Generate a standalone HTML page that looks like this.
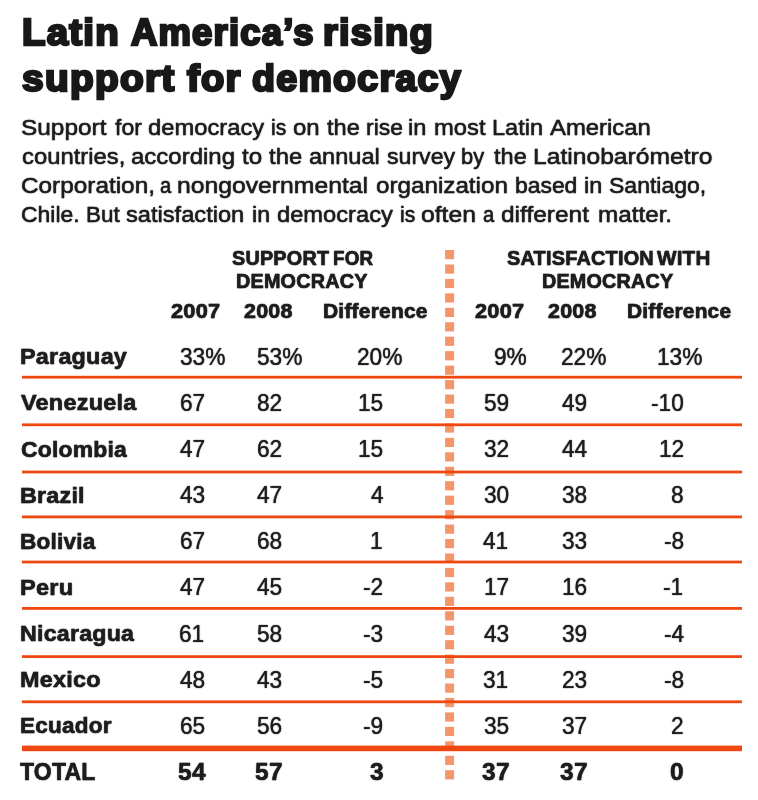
<!DOCTYPE html>
<html><head><meta charset="utf-8"><title>Latin America's rising support for democracy</title>
<style>
html,body{margin:0;padding:0;background:#fff;}
body{width:758px;height:800px;position:relative;overflow:hidden;font-family:"Liberation Sans",sans-serif;}
#w{position:absolute;left:0;top:0;width:758px;height:800px;background:#fff;will-change:transform;}
#g{position:absolute;left:0;top:0;}
.t{position:absolute;white-space:nowrap;transform-origin:0 0;display:block;}
.b{font-weight:bold;}
</style></head><body><div id="w">
<svg id="g" width="758" height="800" viewBox="0 0 758 800">

<rect x="445.1" y="250.00" width="9" height="9.2" fill="#f5966a"/>
<rect x="445.1" y="264.45" width="9" height="9.2" fill="#f5966a"/>
<rect x="445.1" y="278.90" width="9" height="9.2" fill="#f5966a"/>
<rect x="445.1" y="293.35" width="9" height="9.2" fill="#f5966a"/>
<rect x="445.1" y="307.80" width="9" height="9.2" fill="#f5966a"/>
<rect x="445.1" y="322.25" width="9" height="9.2" fill="#f5966a"/>
<rect x="445.1" y="336.70" width="9" height="9.2" fill="#f5966a"/>
<rect x="445.1" y="351.15" width="9" height="9.2" fill="#f5966a"/>
<rect x="445.1" y="365.60" width="9" height="9.2" fill="#f5966a"/>
<rect x="445.1" y="380.05" width="9" height="9.2" fill="#f5966a"/>
<rect x="445.1" y="394.50" width="9" height="9.2" fill="#f5966a"/>
<rect x="445.1" y="408.95" width="9" height="9.2" fill="#f5966a"/>
<rect x="445.1" y="423.40" width="9" height="9.2" fill="#f5966a"/>
<rect x="445.1" y="437.85" width="9" height="9.2" fill="#f5966a"/>
<rect x="445.1" y="452.30" width="9" height="9.2" fill="#f5966a"/>
<rect x="445.1" y="466.75" width="9" height="9.2" fill="#f5966a"/>
<rect x="445.1" y="481.20" width="9" height="9.2" fill="#f5966a"/>
<rect x="445.1" y="495.65" width="9" height="9.2" fill="#f5966a"/>
<rect x="445.1" y="510.10" width="9" height="9.2" fill="#f5966a"/>
<rect x="445.1" y="524.55" width="9" height="9.2" fill="#f5966a"/>
<rect x="445.1" y="539.00" width="9" height="9.2" fill="#f5966a"/>
<rect x="445.1" y="553.45" width="9" height="9.2" fill="#f5966a"/>
<rect x="445.1" y="567.90" width="9" height="9.2" fill="#f5966a"/>
<rect x="445.1" y="582.35" width="9" height="9.2" fill="#f5966a"/>
<rect x="445.1" y="596.80" width="9" height="9.2" fill="#f5966a"/>
<rect x="445.1" y="611.25" width="9" height="9.2" fill="#f5966a"/>
<rect x="445.1" y="625.70" width="9" height="9.2" fill="#f5966a"/>
<rect x="445.1" y="640.15" width="9" height="9.2" fill="#f5966a"/>
<rect x="445.1" y="654.60" width="9" height="9.2" fill="#f5966a"/>
<rect x="445.1" y="669.05" width="9" height="9.2" fill="#f5966a"/>
<rect x="445.1" y="683.50" width="9" height="9.2" fill="#f5966a"/>
<rect x="445.1" y="697.95" width="9" height="9.2" fill="#f5966a"/>
<rect x="445.1" y="712.40" width="9" height="9.2" fill="#f5966a"/>
<rect x="445.1" y="726.85" width="9" height="9.2" fill="#f5966a"/>
<rect x="445.1" y="741.30" width="9" height="9.2" fill="#f5966a"/>
<rect x="445.1" y="755.75" width="9" height="9.2" fill="#f5966a"/>
<rect x="445.1" y="770.20" width="9" height="9.2" fill="#f5966a"/>
<rect x="22" y="375.80" width="720" height="2.8" fill="#ee470f"/>
<rect x="22" y="423.40" width="720" height="2.8" fill="#ee470f"/>
<rect x="22" y="470.60" width="720" height="2.8" fill="#ee470f"/>
<rect x="22" y="515.50" width="720" height="2.8" fill="#ee470f"/>
<rect x="22" y="560.60" width="720" height="2.8" fill="#ee470f"/>
<rect x="22" y="607.00" width="720" height="2.8" fill="#ee470f"/>
<rect x="22" y="655.20" width="720" height="2.8" fill="#ee470f"/>
<rect x="22" y="700.40" width="720" height="2.8" fill="#ee470f"/>
<rect x="22" y="745.6" width="720" height="5.6" fill="#ee470f"/>
</svg>
<div class="t b" style="left:22.35px;top:12px;font-size:36px;line-height:41px;color:#181818;-webkit-text-stroke:2.4px #181818;letter-spacing:1.2px;text-shadow:0 0 1.5px #181818;transform:scaleX(1.0650)">Latin</div>
<div class="t b" style="left:131.01px;top:12px;font-size:36px;line-height:41px;color:#181818;-webkit-text-stroke:2.4px #181818;letter-spacing:1.2px;text-shadow:0 0 1.5px #181818;transform:scaleX(1.0113)">America’s</div>
<div class="t b" style="left:323.06px;top:12px;font-size:36px;line-height:41px;color:#181818;-webkit-text-stroke:2.4px #181818;letter-spacing:1.2px;text-shadow:0 0 1.5px #181818;transform:scaleX(1.0554)">rising</div>
<div class="t b" style="left:22.42px;top:58px;font-size:36px;line-height:41px;color:#181818;-webkit-text-stroke:2.4px #181818;letter-spacing:1.2px;text-shadow:0 0 1.5px #181818;transform:scaleX(1.0786)">support</div>
<div class="t b" style="left:186.67px;top:58px;font-size:36px;line-height:41px;color:#181818;-webkit-text-stroke:2.4px #181818;letter-spacing:1.2px;text-shadow:0 0 1.5px #181818;transform:scaleX(1.0572)">for</div>
<div class="t b" style="left:251.71px;top:58px;font-size:36px;line-height:41px;color:#181818;-webkit-text-stroke:2.4px #181818;letter-spacing:1.2px;text-shadow:0 0 1.5px #181818;transform:scaleX(1.0443)">democracy</div>
<div class="t" style="left:20.79px;top:114px;font-size:22.9px;line-height:26px;color:#1d1d1d;-webkit-text-stroke:0.38px #1d1d1d;text-shadow:0 0 1.2px #1d1d1d;transform:scaleX(1.0655)">Support</div>
<div class="t" style="left:114.59px;top:114px;font-size:22.9px;line-height:26px;color:#1d1d1d;-webkit-text-stroke:0.38px #1d1d1d;text-shadow:0 0 1.2px #1d1d1d;transform:scaleX(1.0084)">for</div>
<div class="t" style="left:148.20px;top:114px;font-size:22.9px;line-height:26px;color:#1d1d1d;-webkit-text-stroke:0.38px #1d1d1d;text-shadow:0 0 1.2px #1d1d1d;transform:scaleX(1.0373)">democracy</div>
<div class="t" style="left:270.95px;top:114px;font-size:22.9px;line-height:26px;color:#1d1d1d;-webkit-text-stroke:0.38px #1d1d1d;text-shadow:0 0 1.2px #1d1d1d;transform:scaleX(0.9246)">is</div>
<div class="t" style="left:292.50px;top:114px;font-size:22.9px;line-height:26px;color:#1d1d1d;-webkit-text-stroke:0.38px #1d1d1d;text-shadow:0 0 1.2px #1d1d1d;transform:scaleX(1.0474)">on</div>
<div class="t" style="left:327.00px;top:114px;font-size:22.9px;line-height:26px;color:#1d1d1d;-webkit-text-stroke:0.38px #1d1d1d;text-shadow:0 0 1.2px #1d1d1d;transform:scaleX(1.0295)">the</div>
<div class="t" style="left:365.59px;top:114px;font-size:22.9px;line-height:26px;color:#1d1d1d;-webkit-text-stroke:0.38px #1d1d1d;text-shadow:0 0 1.2px #1d1d1d;transform:scaleX(1.0019)">rise</div>
<div class="t" style="left:408.26px;top:114px;font-size:22.9px;line-height:26px;color:#1d1d1d;-webkit-text-stroke:0.38px #1d1d1d;text-shadow:0 0 1.2px #1d1d1d;transform:scaleX(1.0325)">in</div>
<div class="t" style="left:433.56px;top:114px;font-size:22.9px;line-height:26px;color:#1d1d1d;-webkit-text-stroke:0.38px #1d1d1d;text-shadow:0 0 1.2px #1d1d1d;transform:scaleX(1.0378)">most</div>
<div class="t" style="left:492.47px;top:114px;font-size:22.9px;line-height:26px;color:#1d1d1d;-webkit-text-stroke:0.38px #1d1d1d;text-shadow:0 0 1.2px #1d1d1d;transform:scaleX(1.0272)">Latin</div>
<div class="t" style="left:550.20px;top:114px;font-size:22.9px;line-height:26px;color:#1d1d1d;-webkit-text-stroke:0.38px #1d1d1d;text-shadow:0 0 1.2px #1d1d1d;transform:scaleX(1.0433)">American</div>
<div class="t" style="left:21.85px;top:143px;font-size:22.9px;line-height:26px;color:#1d1d1d;-webkit-text-stroke:0.38px #1d1d1d;text-shadow:0 0 1.2px #1d1d1d;transform:scaleX(1.0406)">countries,</div>
<div class="t" style="left:130.70px;top:143px;font-size:22.9px;line-height:26px;color:#1d1d1d;-webkit-text-stroke:0.38px #1d1d1d;text-shadow:0 0 1.2px #1d1d1d;transform:scaleX(1.0485)">according</div>
<div class="t" style="left:241.50px;top:143px;font-size:22.9px;line-height:26px;color:#1d1d1d;-webkit-text-stroke:0.38px #1d1d1d;text-shadow:0 0 1.2px #1d1d1d;transform:scaleX(1.0566)">to</div>
<div class="t" style="left:269.20px;top:143px;font-size:22.9px;line-height:26px;color:#1d1d1d;-webkit-text-stroke:0.38px #1d1d1d;text-shadow:0 0 1.2px #1d1d1d;transform:scaleX(1.0422)">the</div>
<div class="t" style="left:308.80px;top:143px;font-size:22.9px;line-height:26px;color:#1d1d1d;-webkit-text-stroke:0.38px #1d1d1d;text-shadow:0 0 1.2px #1d1d1d;transform:scaleX(1.0289)">annual</div>
<div class="t" style="left:386.69px;top:143px;font-size:22.9px;line-height:26px;color:#1d1d1d;-webkit-text-stroke:0.38px #1d1d1d;text-shadow:0 0 1.2px #1d1d1d;transform:scaleX(1.0094)">survey</div>
<div class="t" style="left:461.33px;top:143px;font-size:22.9px;line-height:26px;color:#1d1d1d;-webkit-text-stroke:0.38px #1d1d1d;text-shadow:0 0 1.2px #1d1d1d;transform:scaleX(0.9539)">by</div>
<div class="t" style="left:494.00px;top:143px;font-size:22.9px;line-height:26px;color:#1d1d1d;-webkit-text-stroke:0.38px #1d1d1d;text-shadow:0 0 1.2px #1d1d1d;transform:scaleX(1.0295)">the</div>
<div class="t" style="left:533.33px;top:143px;font-size:22.9px;line-height:26px;color:#1d1d1d;-webkit-text-stroke:0.38px #1d1d1d;text-shadow:0 0 1.2px #1d1d1d;transform:scaleX(1.0765)">Latinobarómetro</div>
<div class="t" style="left:20.79px;top:172px;font-size:22.9px;line-height:26px;color:#1d1d1d;-webkit-text-stroke:0.38px #1d1d1d;text-shadow:0 0 1.2px #1d1d1d;transform:scaleX(1.0634)">Corporation,</div>
<div class="t" style="left:159.78px;top:172px;font-size:22.9px;line-height:26px;color:#1d1d1d;-webkit-text-stroke:0.38px #1d1d1d;text-shadow:0 0 1.2px #1d1d1d;transform:scaleX(0.8800)">a</div>
<div class="t" style="left:177.13px;top:172px;font-size:22.9px;line-height:26px;color:#1d1d1d;-webkit-text-stroke:0.38px #1d1d1d;text-shadow:0 0 1.2px #1d1d1d;transform:scaleX(1.0800)">nongovernmental</div>
<div class="t" style="left:375.60px;top:172px;font-size:22.9px;line-height:26px;color:#1d1d1d;-webkit-text-stroke:0.38px #1d1d1d;text-shadow:0 0 1.2px #1d1d1d;transform:scaleX(1.0574)">organization</div>
<div class="t" style="left:515.09px;top:172px;font-size:22.9px;line-height:26px;color:#1d1d1d;-webkit-text-stroke:0.38px #1d1d1d;text-shadow:0 0 1.2px #1d1d1d;transform:scaleX(0.9997)">based</div>
<div class="t" style="left:583.97px;top:172px;font-size:22.9px;line-height:26px;color:#1d1d1d;-webkit-text-stroke:0.38px #1d1d1d;text-shadow:0 0 1.2px #1d1d1d;transform:scaleX(1.0264)">in</div>
<div class="t" style="left:608.79px;top:172px;font-size:22.9px;line-height:26px;color:#1d1d1d;-webkit-text-stroke:0.38px #1d1d1d;text-shadow:0 0 1.2px #1d1d1d;transform:scaleX(1.0048)">Santiago,</div>
<div class="t" style="left:20.84px;top:201px;font-size:22.9px;line-height:26px;color:#1d1d1d;-webkit-text-stroke:0.38px #1d1d1d;text-shadow:0 0 1.2px #1d1d1d;transform:scaleX(1.0019)">Chile.</div>
<div class="t" style="left:85.81px;top:201px;font-size:22.9px;line-height:26px;color:#1d1d1d;-webkit-text-stroke:0.38px #1d1d1d;text-shadow:0 0 1.2px #1d1d1d;transform:scaleX(0.9803)">But</div>
<div class="t" style="left:126.00px;top:201px;font-size:22.9px;line-height:26px;color:#1d1d1d;-webkit-text-stroke:0.38px #1d1d1d;text-shadow:0 0 1.2px #1d1d1d;transform:scaleX(1.0328)">satisfaction</div>
<div class="t" style="left:251.58px;top:201px;font-size:22.9px;line-height:26px;color:#1d1d1d;-webkit-text-stroke:0.38px #1d1d1d;text-shadow:0 0 1.2px #1d1d1d;transform:scaleX(1.0082)">in</div>
<div class="t" style="left:276.70px;top:201px;font-size:22.9px;line-height:26px;color:#1d1d1d;-webkit-text-stroke:0.38px #1d1d1d;text-shadow:0 0 1.2px #1d1d1d;transform:scaleX(1.0347)">democracy</div>
<div class="t" style="left:399.65px;top:201px;font-size:22.9px;line-height:26px;color:#1d1d1d;-webkit-text-stroke:0.38px #1d1d1d;text-shadow:0 0 1.2px #1d1d1d;transform:scaleX(0.9246)">is</div>
<div class="t" style="left:421.21px;top:201px;font-size:22.9px;line-height:26px;color:#1d1d1d;-webkit-text-stroke:0.38px #1d1d1d;text-shadow:0 0 1.2px #1d1d1d;transform:scaleX(1.0799)">often</div>
<div class="t" style="left:482.93px;top:201px;font-size:22.9px;line-height:26px;color:#1d1d1d;-webkit-text-stroke:0.38px #1d1d1d;text-shadow:0 0 1.2px #1d1d1d;transform:scaleX(0.8800)">a</div>
<div class="t" style="left:501.10px;top:201px;font-size:22.9px;line-height:26px;color:#1d1d1d;-webkit-text-stroke:0.38px #1d1d1d;text-shadow:0 0 1.2px #1d1d1d;transform:scaleX(1.0694)">different</div>
<div class="t" style="left:597.74px;top:201px;font-size:22.9px;line-height:26px;color:#1d1d1d;-webkit-text-stroke:0.38px #1d1d1d;text-shadow:0 0 1.2px #1d1d1d;transform:scaleX(1.0590)">matter.</div>
<div class="t b" style="left:232.05px;top:247px;font-size:19.5px;line-height:22px;color:#1d1d1d;-webkit-text-stroke:0.5px #1d1d1d;letter-spacing:0.2px;text-shadow:0 0 1.2px #1d1d1d;transform:scaleX(1.0161)">SUPPORT</div>
<div class="t b" style="left:333.28px;top:247px;font-size:19.5px;line-height:22px;color:#1d1d1d;-webkit-text-stroke:0.5px #1d1d1d;letter-spacing:0.2px;text-shadow:0 0 1.2px #1d1d1d;transform:scaleX(0.9639)">FOR</div>
<div class="t b" style="left:507.46px;top:247px;font-size:19.5px;line-height:22px;color:#1d1d1d;-webkit-text-stroke:0.5px #1d1d1d;letter-spacing:0.2px;text-shadow:0 0 1.2px #1d1d1d;transform:scaleX(1.0204)">SATISFACTION</div>
<div class="t b" style="left:657.06px;top:247px;font-size:19.5px;line-height:22px;color:#1d1d1d;-webkit-text-stroke:0.5px #1d1d1d;letter-spacing:0.2px;text-shadow:0 0 1.2px #1d1d1d;transform:scaleX(1.0575)">WITH</div>
<div class="t b" style="left:236.14px;top:270px;font-size:19.5px;line-height:22px;color:#1d1d1d;-webkit-text-stroke:0.5px #1d1d1d;letter-spacing:0.2px;text-shadow:0 0 1.2px #1d1d1d;transform:scaleX(1.0153)">DEMOCRACY</div>
<div class="t b" style="left:542.24px;top:270px;font-size:19.5px;line-height:22px;color:#1d1d1d;-webkit-text-stroke:0.5px #1d1d1d;letter-spacing:0.2px;text-shadow:0 0 1.2px #1d1d1d;transform:scaleX(1.0137)">DEMOCRACY</div>
<div class="t b" style="left:170.88px;top:300px;font-size:19.5px;line-height:22px;color:#1d1d1d;-webkit-text-stroke:0.5px #1d1d1d;letter-spacing:0.2px;text-shadow:0 0 1.2px #1d1d1d;transform:scaleX(1.1161)">2007</div>
<div class="t b" style="left:244.48px;top:300px;font-size:19.5px;line-height:22px;color:#1d1d1d;-webkit-text-stroke:0.5px #1d1d1d;letter-spacing:0.2px;text-shadow:0 0 1.2px #1d1d1d;transform:scaleX(1.1000)">2008</div>
<div class="t b" style="left:323.29px;top:300px;font-size:19.5px;line-height:22px;color:#1d1d1d;-webkit-text-stroke:0.5px #1d1d1d;letter-spacing:0.2px;text-shadow:0 0 1.2px #1d1d1d;transform:scaleX(1.0752)">Difference</div>
<div class="t b" style="left:474.88px;top:300px;font-size:19.5px;line-height:22px;color:#1d1d1d;-webkit-text-stroke:0.5px #1d1d1d;letter-spacing:0.2px;text-shadow:0 0 1.2px #1d1d1d;transform:scaleX(1.1161)">2007</div>
<div class="t b" style="left:548.48px;top:300px;font-size:19.5px;line-height:22px;color:#1d1d1d;-webkit-text-stroke:0.5px #1d1d1d;letter-spacing:0.2px;text-shadow:0 0 1.2px #1d1d1d;transform:scaleX(1.1000)">2008</div>
<div class="t b" style="left:626.60px;top:300px;font-size:19.5px;line-height:22px;color:#1d1d1d;-webkit-text-stroke:0.5px #1d1d1d;letter-spacing:0.2px;text-shadow:0 0 1.2px #1d1d1d;transform:scaleX(1.0710)">Difference</div>
<div class="t b" style="left:19.58px;top:344px;font-size:22px;line-height:25px;color:#1d1d1d;-webkit-text-stroke:0.45px #1d1d1d;letter-spacing:0.2px;text-shadow:0 0 1.2px #1d1d1d;transform:scaleX(1.0639)">Paraguay</div>
<div class="t" style="left:179.99px;top:343px;font-size:24px;line-height:27px;color:#1d1d1d;-webkit-text-stroke:0.2px #1d1d1d;text-shadow:0 0 1.2px #1d1d1d;transform:scaleX(0.9450)">33%</div>
<div class="t" style="left:256.69px;top:343px;font-size:24px;line-height:27px;color:#1d1d1d;-webkit-text-stroke:0.2px #1d1d1d;text-shadow:0 0 1.2px #1d1d1d;transform:scaleX(0.9450)">53%</div>
<div class="t" style="left:356.75px;top:343px;font-size:24px;line-height:27px;color:#1d1d1d;-webkit-text-stroke:0.2px #1d1d1d;text-shadow:0 0 1.2px #1d1d1d;transform:scaleX(0.9450)">20%</div>
<div class="t" style="left:493.75px;top:343px;font-size:24px;line-height:27px;color:#1d1d1d;-webkit-text-stroke:0.2px #1d1d1d;text-shadow:0 0 1.2px #1d1d1d;transform:scaleX(0.9450)">9%</div>
<div class="t" style="left:561.45px;top:343px;font-size:24px;line-height:27px;color:#1d1d1d;-webkit-text-stroke:0.2px #1d1d1d;text-shadow:0 0 1.2px #1d1d1d;transform:scaleX(0.9450)">22%</div>
<div class="t" style="left:656.75px;top:343px;font-size:24px;line-height:27px;color:#1d1d1d;-webkit-text-stroke:0.2px #1d1d1d;text-shadow:0 0 1.2px #1d1d1d;transform:scaleX(0.9450)">13%</div>
<div class="t b" style="left:20.64px;top:390px;font-size:22px;line-height:25px;color:#1d1d1d;-webkit-text-stroke:0.45px #1d1d1d;letter-spacing:0.2px;text-shadow:0 0 1.2px #1d1d1d;transform:scaleX(1.0677)">Venezuela</div>
<div class="t" style="left:179.81px;top:389px;font-size:24px;line-height:27px;color:#1d1d1d;-webkit-text-stroke:0.2px #1d1d1d;text-shadow:0 0 1.2px #1d1d1d;transform:scaleX(0.9450)">67</div>
<div class="t" style="left:256.81px;top:389px;font-size:24px;line-height:27px;color:#1d1d1d;-webkit-text-stroke:0.2px #1d1d1d;text-shadow:0 0 1.2px #1d1d1d;transform:scaleX(0.9450)">82</div>
<div class="t" style="left:357.91px;top:389px;font-size:24px;line-height:27px;color:#1d1d1d;-webkit-text-stroke:0.2px #1d1d1d;text-shadow:0 0 1.2px #1d1d1d;transform:scaleX(0.9450)">15</div>
<div class="t" style="left:483.71px;top:389px;font-size:24px;line-height:27px;color:#1d1d1d;-webkit-text-stroke:0.2px #1d1d1d;text-shadow:0 0 1.2px #1d1d1d;transform:scaleX(0.9450)">59</div>
<div class="t" style="left:562.01px;top:389px;font-size:24px;line-height:27px;color:#1d1d1d;-webkit-text-stroke:0.2px #1d1d1d;text-shadow:0 0 1.2px #1d1d1d;transform:scaleX(0.9450)">49</div>
<div class="t" style="left:651.05px;top:389px;font-size:24px;line-height:27px;color:#1d1d1d;-webkit-text-stroke:0.2px #1d1d1d;text-shadow:0 0 1.2px #1d1d1d;transform:scaleX(0.9450)">-10</div>
<div class="t b" style="left:20.63px;top:437px;font-size:22px;line-height:25px;color:#1d1d1d;-webkit-text-stroke:0.45px #1d1d1d;letter-spacing:0.2px;text-shadow:0 0 1.2px #1d1d1d;transform:scaleX(1.0414)">Colombia</div>
<div class="t" style="left:179.81px;top:435px;font-size:24px;line-height:27px;color:#1d1d1d;-webkit-text-stroke:0.2px #1d1d1d;text-shadow:0 0 1.2px #1d1d1d;transform:scaleX(0.9450)">47</div>
<div class="t" style="left:256.81px;top:435px;font-size:24px;line-height:27px;color:#1d1d1d;-webkit-text-stroke:0.2px #1d1d1d;text-shadow:0 0 1.2px #1d1d1d;transform:scaleX(0.9450)">62</div>
<div class="t" style="left:357.91px;top:435px;font-size:24px;line-height:27px;color:#1d1d1d;-webkit-text-stroke:0.2px #1d1d1d;text-shadow:0 0 1.2px #1d1d1d;transform:scaleX(0.9450)">15</div>
<div class="t" style="left:483.71px;top:435px;font-size:24px;line-height:27px;color:#1d1d1d;-webkit-text-stroke:0.2px #1d1d1d;text-shadow:0 0 1.2px #1d1d1d;transform:scaleX(0.9450)">32</div>
<div class="t" style="left:562.01px;top:435px;font-size:24px;line-height:27px;color:#1d1d1d;-webkit-text-stroke:0.2px #1d1d1d;text-shadow:0 0 1.2px #1d1d1d;transform:scaleX(0.9450)">44</div>
<div class="t" style="left:658.61px;top:435px;font-size:24px;line-height:27px;color:#1d1d1d;-webkit-text-stroke:0.2px #1d1d1d;text-shadow:0 0 1.2px #1d1d1d;transform:scaleX(0.9450)">12</div>
<div class="t b" style="left:19.58px;top:483px;font-size:22px;line-height:25px;color:#1d1d1d;-webkit-text-stroke:0.45px #1d1d1d;letter-spacing:0.2px;text-shadow:0 0 1.2px #1d1d1d;transform:scaleX(1.0600)">Brazil</div>
<div class="t" style="left:179.81px;top:481px;font-size:24px;line-height:27px;color:#1d1d1d;-webkit-text-stroke:0.2px #1d1d1d;text-shadow:0 0 1.2px #1d1d1d;transform:scaleX(0.9450)">43</div>
<div class="t" style="left:256.81px;top:481px;font-size:24px;line-height:27px;color:#1d1d1d;-webkit-text-stroke:0.2px #1d1d1d;text-shadow:0 0 1.2px #1d1d1d;transform:scaleX(0.9450)">47</div>
<div class="t" style="left:370.52px;top:481px;font-size:24px;line-height:27px;color:#1d1d1d;-webkit-text-stroke:0.2px #1d1d1d;text-shadow:0 0 1.2px #1d1d1d;transform:scaleX(0.9450)">4</div>
<div class="t" style="left:483.71px;top:481px;font-size:24px;line-height:27px;color:#1d1d1d;-webkit-text-stroke:0.2px #1d1d1d;text-shadow:0 0 1.2px #1d1d1d;transform:scaleX(0.9450)">30</div>
<div class="t" style="left:562.01px;top:481px;font-size:24px;line-height:27px;color:#1d1d1d;-webkit-text-stroke:0.2px #1d1d1d;text-shadow:0 0 1.2px #1d1d1d;transform:scaleX(0.9450)">38</div>
<div class="t" style="left:671.22px;top:481px;font-size:24px;line-height:27px;color:#1d1d1d;-webkit-text-stroke:0.2px #1d1d1d;text-shadow:0 0 1.2px #1d1d1d;transform:scaleX(0.9450)">8</div>
<div class="t b" style="left:19.60px;top:529px;font-size:22px;line-height:25px;color:#1d1d1d;-webkit-text-stroke:0.45px #1d1d1d;letter-spacing:0.2px;text-shadow:0 0 1.2px #1d1d1d;transform:scaleX(1.0265)">Bolivia</div>
<div class="t" style="left:179.81px;top:527px;font-size:24px;line-height:27px;color:#1d1d1d;-webkit-text-stroke:0.2px #1d1d1d;text-shadow:0 0 1.2px #1d1d1d;transform:scaleX(0.9450)">67</div>
<div class="t" style="left:256.81px;top:527px;font-size:24px;line-height:27px;color:#1d1d1d;-webkit-text-stroke:0.2px #1d1d1d;text-shadow:0 0 1.2px #1d1d1d;transform:scaleX(0.9450)">68</div>
<div class="t" style="left:369.92px;top:527px;font-size:24px;line-height:27px;color:#1d1d1d;-webkit-text-stroke:0.2px #1d1d1d;text-shadow:0 0 1.2px #1d1d1d;transform:scaleX(0.9450)">1</div>
<div class="t" style="left:483.11px;top:527px;font-size:24px;line-height:27px;color:#1d1d1d;-webkit-text-stroke:0.2px #1d1d1d;text-shadow:0 0 1.2px #1d1d1d;transform:scaleX(0.9450)">41</div>
<div class="t" style="left:562.01px;top:527px;font-size:24px;line-height:27px;color:#1d1d1d;-webkit-text-stroke:0.2px #1d1d1d;text-shadow:0 0 1.2px #1d1d1d;transform:scaleX(0.9450)">33</div>
<div class="t" style="left:663.67px;top:527px;font-size:24px;line-height:27px;color:#1d1d1d;-webkit-text-stroke:0.2px #1d1d1d;text-shadow:0 0 1.2px #1d1d1d;transform:scaleX(0.9450)">-8</div>
<div class="t b" style="left:19.57px;top:575px;font-size:22px;line-height:25px;color:#1d1d1d;-webkit-text-stroke:0.45px #1d1d1d;letter-spacing:0.2px;text-shadow:0 0 1.2px #1d1d1d;transform:scaleX(1.0711)">Peru</div>
<div class="t" style="left:179.81px;top:573px;font-size:24px;line-height:27px;color:#1d1d1d;-webkit-text-stroke:0.2px #1d1d1d;text-shadow:0 0 1.2px #1d1d1d;transform:scaleX(0.9450)">47</div>
<div class="t" style="left:256.81px;top:573px;font-size:24px;line-height:27px;color:#1d1d1d;-webkit-text-stroke:0.2px #1d1d1d;text-shadow:0 0 1.2px #1d1d1d;transform:scaleX(0.9450)">45</div>
<div class="t" style="left:362.97px;top:573px;font-size:24px;line-height:27px;color:#1d1d1d;-webkit-text-stroke:0.2px #1d1d1d;text-shadow:0 0 1.2px #1d1d1d;transform:scaleX(0.9450)">-2</div>
<div class="t" style="left:483.71px;top:573px;font-size:24px;line-height:27px;color:#1d1d1d;-webkit-text-stroke:0.2px #1d1d1d;text-shadow:0 0 1.2px #1d1d1d;transform:scaleX(0.9450)">17</div>
<div class="t" style="left:562.01px;top:573px;font-size:24px;line-height:27px;color:#1d1d1d;-webkit-text-stroke:0.2px #1d1d1d;text-shadow:0 0 1.2px #1d1d1d;transform:scaleX(0.9450)">16</div>
<div class="t" style="left:663.07px;top:573px;font-size:24px;line-height:27px;color:#1d1d1d;-webkit-text-stroke:0.2px #1d1d1d;text-shadow:0 0 1.2px #1d1d1d;transform:scaleX(0.9450)">-1</div>
<div class="t b" style="left:19.58px;top:621px;font-size:22px;line-height:25px;color:#1d1d1d;-webkit-text-stroke:0.45px #1d1d1d;letter-spacing:0.2px;text-shadow:0 0 1.2px #1d1d1d;transform:scaleX(1.0555)">Nicaragua</div>
<div class="t" style="left:179.21px;top:620px;font-size:24px;line-height:27px;color:#1d1d1d;-webkit-text-stroke:0.2px #1d1d1d;text-shadow:0 0 1.2px #1d1d1d;transform:scaleX(0.9450)">61</div>
<div class="t" style="left:256.81px;top:620px;font-size:24px;line-height:27px;color:#1d1d1d;-webkit-text-stroke:0.2px #1d1d1d;text-shadow:0 0 1.2px #1d1d1d;transform:scaleX(0.9450)">58</div>
<div class="t" style="left:362.97px;top:620px;font-size:24px;line-height:27px;color:#1d1d1d;-webkit-text-stroke:0.2px #1d1d1d;text-shadow:0 0 1.2px #1d1d1d;transform:scaleX(0.9450)">-3</div>
<div class="t" style="left:483.71px;top:620px;font-size:24px;line-height:27px;color:#1d1d1d;-webkit-text-stroke:0.2px #1d1d1d;text-shadow:0 0 1.2px #1d1d1d;transform:scaleX(0.9450)">43</div>
<div class="t" style="left:562.01px;top:620px;font-size:24px;line-height:27px;color:#1d1d1d;-webkit-text-stroke:0.2px #1d1d1d;text-shadow:0 0 1.2px #1d1d1d;transform:scaleX(0.9450)">39</div>
<div class="t" style="left:663.67px;top:620px;font-size:24px;line-height:27px;color:#1d1d1d;-webkit-text-stroke:0.2px #1d1d1d;text-shadow:0 0 1.2px #1d1d1d;transform:scaleX(0.9450)">-4</div>
<div class="t b" style="left:19.58px;top:667px;font-size:22px;line-height:25px;color:#1d1d1d;-webkit-text-stroke:0.45px #1d1d1d;letter-spacing:0.2px;text-shadow:0 0 1.2px #1d1d1d;transform:scaleX(1.0644)">Mexico</div>
<div class="t" style="left:179.81px;top:666px;font-size:24px;line-height:27px;color:#1d1d1d;-webkit-text-stroke:0.2px #1d1d1d;text-shadow:0 0 1.2px #1d1d1d;transform:scaleX(0.9450)">48</div>
<div class="t" style="left:256.81px;top:666px;font-size:24px;line-height:27px;color:#1d1d1d;-webkit-text-stroke:0.2px #1d1d1d;text-shadow:0 0 1.2px #1d1d1d;transform:scaleX(0.9450)">43</div>
<div class="t" style="left:362.97px;top:666px;font-size:24px;line-height:27px;color:#1d1d1d;-webkit-text-stroke:0.2px #1d1d1d;text-shadow:0 0 1.2px #1d1d1d;transform:scaleX(0.9450)">-5</div>
<div class="t" style="left:483.11px;top:666px;font-size:24px;line-height:27px;color:#1d1d1d;-webkit-text-stroke:0.2px #1d1d1d;text-shadow:0 0 1.2px #1d1d1d;transform:scaleX(0.9450)">31</div>
<div class="t" style="left:562.01px;top:666px;font-size:24px;line-height:27px;color:#1d1d1d;-webkit-text-stroke:0.2px #1d1d1d;text-shadow:0 0 1.2px #1d1d1d;transform:scaleX(0.9450)">23</div>
<div class="t" style="left:663.67px;top:666px;font-size:24px;line-height:27px;color:#1d1d1d;-webkit-text-stroke:0.2px #1d1d1d;text-shadow:0 0 1.2px #1d1d1d;transform:scaleX(0.9450)">-8</div>
<div class="t b" style="left:19.61px;top:713px;font-size:22px;line-height:25px;color:#1d1d1d;-webkit-text-stroke:0.45px #1d1d1d;letter-spacing:0.2px;text-shadow:0 0 1.2px #1d1d1d;transform:scaleX(1.0246)">Ecuador</div>
<div class="t" style="left:179.81px;top:712px;font-size:24px;line-height:27px;color:#1d1d1d;-webkit-text-stroke:0.2px #1d1d1d;text-shadow:0 0 1.2px #1d1d1d;transform:scaleX(0.9450)">65</div>
<div class="t" style="left:256.81px;top:712px;font-size:24px;line-height:27px;color:#1d1d1d;-webkit-text-stroke:0.2px #1d1d1d;text-shadow:0 0 1.2px #1d1d1d;transform:scaleX(0.9450)">56</div>
<div class="t" style="left:362.97px;top:712px;font-size:24px;line-height:27px;color:#1d1d1d;-webkit-text-stroke:0.2px #1d1d1d;text-shadow:0 0 1.2px #1d1d1d;transform:scaleX(0.9450)">-9</div>
<div class="t" style="left:483.71px;top:712px;font-size:24px;line-height:27px;color:#1d1d1d;-webkit-text-stroke:0.2px #1d1d1d;text-shadow:0 0 1.2px #1d1d1d;transform:scaleX(0.9450)">35</div>
<div class="t" style="left:562.01px;top:712px;font-size:24px;line-height:27px;color:#1d1d1d;-webkit-text-stroke:0.2px #1d1d1d;text-shadow:0 0 1.2px #1d1d1d;transform:scaleX(0.9450)">37</div>
<div class="t" style="left:671.22px;top:712px;font-size:24px;line-height:27px;color:#1d1d1d;-webkit-text-stroke:0.2px #1d1d1d;text-shadow:0 0 1.2px #1d1d1d;transform:scaleX(0.9450)">2</div>
<div class="t b" style="left:19.82px;top:759px;font-size:23.5px;line-height:26px;color:#1d1d1d;-webkit-text-stroke:0.45px #1d1d1d;letter-spacing:0.2px;text-shadow:0 0 1.2px #1d1d1d;transform:scaleX(0.9787)">TOTAL</div>
<div class="t b" style="left:177.64px;top:759px;font-size:23.5px;line-height:26px;color:#1d1d1d;-webkit-text-stroke:0.45px #1d1d1d;letter-spacing:0.3px;text-shadow:0 0 1.2px #1d1d1d;transform:scaleX(1.0400)">54</div>
<div class="t b" style="left:254.64px;top:759px;font-size:23.5px;line-height:26px;color:#1d1d1d;-webkit-text-stroke:0.45px #1d1d1d;letter-spacing:0.3px;text-shadow:0 0 1.2px #1d1d1d;transform:scaleX(1.0400)">57</div>
<div class="t b" style="left:369.65px;top:759px;font-size:23.5px;line-height:26px;color:#1d1d1d;-webkit-text-stroke:0.45px #1d1d1d;letter-spacing:0.3px;text-shadow:0 0 1.2px #1d1d1d;transform:scaleX(1.0400)">3</div>
<div class="t b" style="left:481.54px;top:759px;font-size:23.5px;line-height:26px;color:#1d1d1d;-webkit-text-stroke:0.45px #1d1d1d;letter-spacing:0.3px;text-shadow:0 0 1.2px #1d1d1d;transform:scaleX(1.0400)">37</div>
<div class="t b" style="left:559.84px;top:759px;font-size:23.5px;line-height:26px;color:#1d1d1d;-webkit-text-stroke:0.45px #1d1d1d;letter-spacing:0.3px;text-shadow:0 0 1.2px #1d1d1d;transform:scaleX(1.0400)">37</div>
<div class="t b" style="left:670.35px;top:759px;font-size:23.5px;line-height:26px;color:#1d1d1d;-webkit-text-stroke:0.45px #1d1d1d;letter-spacing:0.3px;text-shadow:0 0 1.2px #1d1d1d;transform:scaleX(1.0400)">0</div>
</div></body></html>
